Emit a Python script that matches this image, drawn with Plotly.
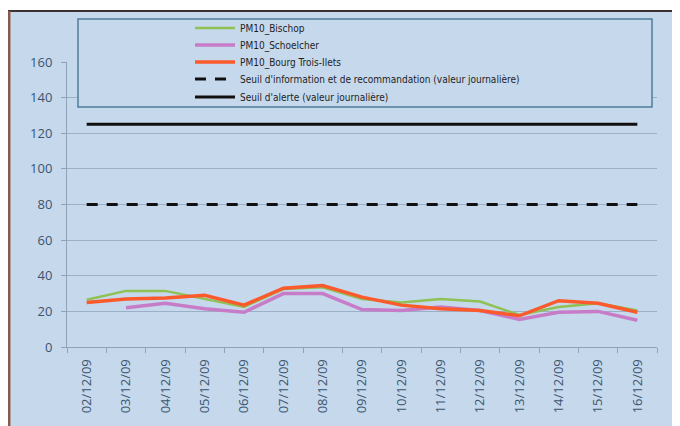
import plotly.graph_objects as go

dates = ["02/12/09", "03/12/09", "04/12/09", "05/12/09", "06/12/09", "07/12/09", "08/12/09",
         "09/12/09", "10/12/09", "11/12/09", "12/12/09", "13/12/09", "14/12/09", "15/12/09", "16/12/09"]
bischop = [26.5, 31.5, 31.5, 27, 22.5, 32.5, 33.5, 27, 25, 27, 25.5, 18, 22.5, 24.5, 20.5]
schoelcher = [None, 22, 24.5, 21.5, 19.5, 30, 30, 21, 20.5, 22.5, 20.5, 15.5, 19.5, 20, 15]
bourg = [25, 27, 27.5, 29, 23.5, 33, 34.5, 28, 23.5, 21.5, 20.5, 17.5, 26, 24.5, 19.5]
seuil_info = [80] * len(dates)
seuil_alerte = [125] * len(dates)

names = ["PM10_Bischop", "PM10_Schoelcher", "PM10_Bourg Trois-Ilets",
         "Seuil d'information et de recommandation (valeur journalière)",
         "Seuil d'alerte (valeur journalière)"]

BG = "#c6d8ec"
# figure is offset by the page's 8px body margin
W, H = 672, 418
L, R, T, B = 59, 23, 54, 79
PW, PH = W - L - R, H - T - B


def px(x):
    return (x - L) / PW


def py(y):
    return 1 - (y - T) / PH


styles = [dict(color="#8fc155", width=2.5),
          dict(color="#c77cc8", width=3.5),
          dict(color="#fb5a2c", width=3.5),
          dict(color="#101010", width=3, dash="11px,9px"),
          dict(color="#101010", width=3)]
series = [bischop, schoelcher, bourg, seuil_info, seuil_alerte]
legend_ids = ["legend", "legend2", "legend3", "legend4", "legend5"]
row_y = [20, 37, 54, 71, 89]

fig = go.Figure()
for vals, nm, st, lg in zip(series, names, styles, legend_ids):
    fig.add_trace(go.Scatter(x=dates, y=vals, name=nm, mode="lines", line=st, legend=lg))

shapes = [
    # legend box
    dict(type="rect", xref="paper", yref="paper", x0=px(70), x1=px(644), y0=py(99), y1=py(11),
         line=dict(color="#4f7d9c", width=1.5), fillcolor=BG, layer="above"),
    # white strip above the frame
    dict(type="rect", xref="paper", yref="paper", x0=px(0), x1=px(W), y0=py(2), y1=py(0),
         line=dict(width=0), fillcolor="white", layer="above"),
    # frame lines
    dict(type="line", xref="paper", yref="paper", x0=px(0), x1=px(W), y0=py(3), y1=py(3),
         line=dict(color="#3c3030", width=2), layer="above"),
    dict(type="line", xref="paper", yref="paper", x0=px(1.2), x1=px(1.2), y0=py(H), y1=py(3),
         line=dict(color="#8a5a48", width=2.5), layer="above"),
]

legend_font = dict(family="Liberation Sans Narrow, DejaVu Sans Condensed, sans-serif",
                   size=10, color="#1e1e1e")
legends = {}
for lg, yc in zip(legend_ids, row_y):
    legends[lg] = dict(xref="container", yref="container",
                       x=182 / W, y=1 - yc / H, xanchor="left", yanchor="middle",
                       bgcolor="rgba(0,0,0,0)", borderwidth=0,
                       font=legend_font, itemwidth=40)

fig.update_layout(
    width=W, height=H,
    margin=dict(l=L, r=R, t=T, b=B, autoexpand=False),
    paper_bgcolor=BG, plot_bgcolor=BG,
    shapes=shapes,
    showlegend=True,
    **legends,
    xaxis=dict(type="category", range=[-0.5, len(dates) - 0.5], automargin=False,
               showgrid=False, showline=True, linecolor="#8ea3b8", linewidth=1,
               ticks="outside", tickson="boundaries", ticklen=5, tickcolor="#8ea3b8",
               tickangle=-90, ticklabelstandoff=6,
               tickfont=dict(family="Open Sans, sans-serif", size=13, color="#3a5570")),
    yaxis=dict(range=[0, 160], dtick=20, tick0=0, automargin=False,
               showgrid=True, gridcolor="#9bb0c6", gridwidth=1,
               showline=True, linecolor="#8ea3b8", linewidth=1,
               ticks="outside", ticklen=5, tickcolor="#8ea3b8",
               zeroline=False, ticklabelstandoff=6,
               tickfont=dict(family="Open Sans, sans-serif", size=13, color="#3a5570")),
)

fig.write_html("out.html")
